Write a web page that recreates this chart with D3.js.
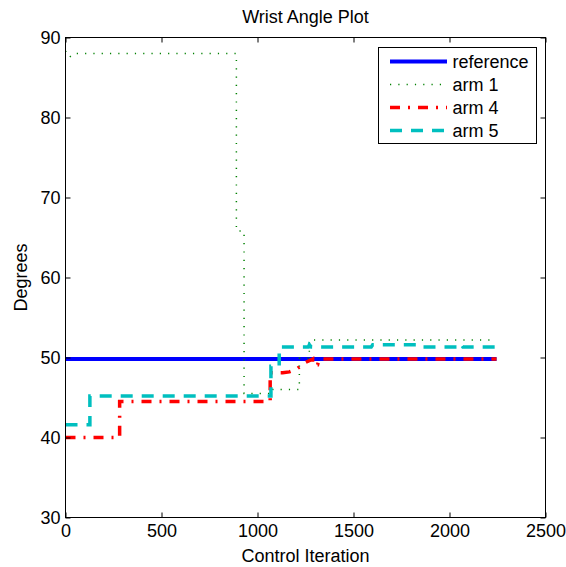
<!DOCTYPE html>
<html>
<head>
<meta charset="utf-8">
<script src="https://cdn.jsdelivr.net/npm/d3@7"></script>
<style>
  body { margin: 0; background: #fff; }
  svg text { font-family: "Liberation Sans", Arial, Helvetica, sans-serif; fill: #000; }
</style>
</head>
<body>
<div id="chart"></div>
<script>
// tick values
const xTicks = [0, 500, 1000, 1500, 2000, 2500];
const yTicks = [30, 40, 50, 60, 70, 80, 90];

// series (control iteration, degrees)
const refIter = [0, 2245];
const refDeg = [49.8, 49.8];

const arm1Iter = [0, 20, 40, 890, 890, 930, 930, 1080, 1080, 1218, 1218, 1270, 1270, 2245];
const arm1Deg = [88.3, 87.5, 88, 88, 65.8, 65.8, 45.5, 45.5, 46, 46, 49.9, 49.9, 52.2, 52.2];

const arm4Iter = [0, 282, 282, 1066, 1066, 1131, 1166, 1200, 1235, 1252, 1287, 1287, 1313, 1322, 2245];
const arm4Deg = [40, 40, 44.5, 44.5, 48.1, 48.1, 48.2, 48.5, 49.1, 49.4, 49.8, 49.1, 49.1, 49.8, 49.8];

const arm5Iter = [0, 127, 127, 1070, 1070, 1113, 1113, 1265, 1270, 1280, 1592, 1600, 1850, 1858, 2052, 2060, 2070, 2245];
const arm5Deg = [41.6, 41.6, 45.2, 45.2, 48.9, 48.9, 51.3, 51.3, 51.6, 51.3, 51.3, 51.6, 51.6, 51.3, 51.3, 51.7, 51.3, 51.3];

const seriesNames = ["reference", "arm 1", "arm 4", "arm 5"];

const width = 566, height = 567;
const margin = {top: 37.5, right: 20.5, bottom: 49.5, left: 65.5};

var svg = d3.select("#chart").append("svg")
    .attr("width", width)
    .attr("height", height);

var x = d3.scaleLinear()
    .domain([0, 2500])
    .range([margin.left, width - margin.right]);

var y = d3.scaleLinear()
    .domain([30, 90])
    .range([height - margin.bottom, margin.top]);

function zip(xs, ys) { return xs.map(function(v, i) { return [v, ys[i]]; }); }

var series = [
  {name: seriesNames[0], pts: zip(refIter, refDeg), color: "#0000ff", w: 4, dash: null},
  {name: seriesNames[1], pts: zip(arm1Iter, arm1Deg), color: "#008000", w: 1.5, dash: "1.2 7.1"},
  {name: seriesNames[2], pts: zip(arm4Iter, arm4Deg), color: "#ff0000", w: 3.5, dash: "10 8 2 8"},
  {name: seriesNames[3], pts: zip(arm5Iter, arm5Deg), color: "#00bfbf", w: 3.5, dash: "12 9"}
];

var line = d3.line()
    .x(function(d) { return x(d[0]); })
    .y(function(d) { return y(d[1]); });

// lines, drawn under the frame
svg.append("g").selectAll("path")
    .data(series)
  .enter().append("path")
    .attr("d", function(d) { return line(d.pts); })
    .attr("fill", "none")
    .attr("stroke", function(d) { return d.color; })
    .attr("stroke-width", function(d) { return d.w; })
    .attr("stroke-dasharray", function(d) { return d.dash; });

// axes, ticks pointing inwards (matlab style, box on)
var fontSize = "18px";

var gx = svg.append("g")
    .attr("transform", "translate(0," + y(30) + ")")
    .call(d3.axisBottom(x).tickValues(xTicks).tickFormat(d3.format("d"))
      .tickSize(-5).tickPadding(7).tickSizeOuter(0));
var gxTop = svg.append("g")
    .attr("transform", "translate(0," + y(90) + ")")
    .call(d3.axisTop(x).tickValues(xTicks).tickSize(-5).tickFormat("").tickSizeOuter(0));
var gy = svg.append("g")
    .attr("transform", "translate(" + x(0) + ",0)")
    .call(d3.axisLeft(y).tickValues(yTicks).tickFormat(d3.format("d"))
      .tickSize(-5).tickPadding(5).tickSizeOuter(0));
var gyRight = svg.append("g")
    .attr("transform", "translate(" + x(2500) + ",0)")
    .call(d3.axisRight(y).tickValues(yTicks).tickSize(-5).tickFormat("").tickSizeOuter(0));

[gx, gxTop, gy, gyRight].forEach(function(g) {
  g.select(".domain").remove();
  g.selectAll("line").attr("stroke", "#000");
  g.selectAll("text")
    .style("font-size", fontSize)
    .style("font-family", "'Liberation Sans', Arial, sans-serif")
    .attr("fill", "#000");
});
gx.selectAll("text").attr("dy", "0.72em");

// frame
svg.append("rect")
    .attr("x", x(0))
    .attr("y", y(90))
    .attr("width", x(2500) - x(0))
    .attr("height", y(30) - y(90))
    .attr("fill", "none")
    .attr("stroke", "#000")
    .attr("stroke-width", 1);

// title and axis labels
svg.append("text")
    .attr("x", (x(0) + x(2500)) / 2)
    .attr("y", 23)
    .attr("text-anchor", "middle")
    .style("font-size", fontSize)
    .text("Wrist Angle Plot");

svg.append("text")
    .attr("x", (x(0) + x(2500)) / 2)
    .attr("y", 562)
    .attr("text-anchor", "middle")
    .style("font-size", fontSize)
    .text("Control Iteration");

svg.append("text")
    .attr("transform", "translate(27," + (y(60)) + ") rotate(-90)")
    .attr("text-anchor", "middle")
    .style("font-size", fontSize)
    .text("Degrees");

// legend
var legX = 378.5, legY = 47.5, legW = 158, legH = 96, rowH = 23;

var legend = svg.append("g");
legend.append("rect")
    .attr("x", legX)
    .attr("y", legY)
    .attr("width", legW)
    .attr("height", legH)
    .attr("fill", "#fff")
    .attr("stroke", "#000")
    .attr("stroke-width", 1);

var rows = legend.selectAll("g.row")
    .data(series)
  .enter().append("g")
    .attr("class", "row")
    .attr("transform", function(d, i) { return "translate(" + legX + "," + (legY + 14 + i * rowH) + ")"; });

rows.append("line")
    .attr("x1", 11.5)
    .attr("x2", 68.5)
    .attr("stroke", function(d) { return d.color; })
    .attr("stroke-width", function(d) { return d.w; })
    .attr("stroke-dasharray", function(d) { return d.dash; });

rows.append("text")
    .attr("x", 74)
    .attr("dy", "0.35em")
    .style("font-size", fontSize)
    .text(function(d) { return d.name; });
</script>
</body>
</html>
